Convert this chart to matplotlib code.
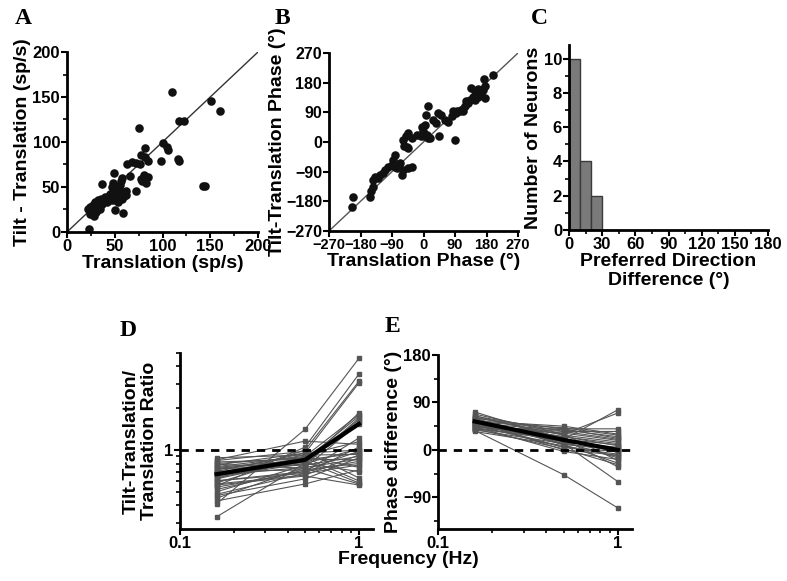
import numpy as np
import matplotlib
matplotlib.use('Agg')
import matplotlib.pyplot as plt
from matplotlib.ticker import FixedLocator, NullFormatter, MultipleLocator

plt.rcParams['font.family'] = ['Liberation Sans', 'DejaVu Sans']
plt.rcParams['font.weight'] = 'bold'
plt.rcParams['axes.labelweight'] = 'bold'

########################################################################################################
# A: response amplitude, translation vs tilt-translation (sp/s)
amp_trans = [110, 151, 160, 117, 122, 75, 101, 105, 106, 82, 98, 116.5, 117, 77, 82,
             63, 68, 72, 76, 84.5, 85, 81, 78, 79, 83, 66, 49, 57.6, 57, 72, 142, 145, 37,
             48, 52, 55, 50, 53, 58.6, 62, 57.6, 51.7, 46.6, 43, 39.7, 36, 32.8, 29.3, 27.6,
             24, 22.4, 25.9, 29.3, 31, 44.8, 41.4, 36.2, 48.3, 53.4, 56.9, 25.9, 24, 34.5,
             50, 58.6, 23.4, 27, 30, 33, 38, 45, 52, 60, 55, 47, 62, 28, 35]
amp_tilt = [156, 146, 134, 123, 123, 116, 99, 94, 91, 93, 79, 81, 79, 85, 83,
            75, 78, 77, 75, 79, 61, 63, 59, 57, 54, 62, 66, 60, 57, 45.5, 51, 51, 53,
            54, 50, 46, 44, 41, 42.6, 40.7, 37, 37, 40.7, 38, 39, 37, 35, 33, 29.6,
            27.8, 26, 22, 26, 29.6, 35, 33, 31.5, 35, 33, 44, 20.4, 20.4, 33,
            24, 21, 3.7, 25, 22, 28, 33, 42, 47, 40, 52, 50, 45, 18, 25]

# B: response phase (deg)
ph_trans = [199, 172, 175, 175, 137, 156, 146, 160, 113, 96, 83, 89, 61, 51, 42, 27.6, 35,
            44, 13, 6, 3.8, -5.7, -1, -7.6, 1.9, 8.6, 18, 13.3, -20, -34, -43.7, -50, -58,
            -56, -48.5, -43.7, -32, -43.7, -58, -62.7, -81.7, -86.5, -91, -81.7, -77, -72,
            -67.5, -100.8, -110, -115, -124.5, -129, -139, -143.5, -145.4, -150, -153,
            -200.6, -205, 160.6, 151, 141.6, 132, 127, 118, 108, 103.6, 94, 122.6, 146,
            156, 165, 170, 70, 80]
ph_tilt = [204, 191, 169, 133, 164, 161, 154, 143, 93, 93, 93, 6.6, 67, 82.6, 87.6, 67, 59,
           18.7, 108, 82.6, 52, 47, 32, 16.7, 16.7, 21.8, 11.7, 11.7, 21.8, 11.7, 26.9,
           16.7, 6.6, -11.6, -13.7, -18.7, -74.5, -79.5, -84.6, -99.8, -39, -54, -69.4,
           -74.5, -79.5, -74.5, -64.3, -74.5, -84.6, -94.7, -99.8, -110, -104.9, -115,
           -135, -150, -165.7, -165.7, -196, 158.6, 148, 138, 128, 118, 108, 97.7, 92.7,
           87.6, 123, 128, 138, 148, 158.6, 62, 77.5]

# C: preferred direction difference histogram
pd_bins = [0, 10, 20, 30]
pd_counts = [10, 4, 2]

# D and E: one row per neuron, columns are the three frequencies
freqs = [0.16, 0.5, 1.0]
ratio = [[0.41, 1.41, 4.57], [0.55, 1.05, 3.52], [0.62, 1.00, 3.12], [0.70, 0.95, 3.04],
         [0.33, 0.80, 1.85], [0.58, 0.90, 1.80], [0.75, 0.85, 1.75], [0.50, 0.78, 1.70],
         [0.65, 0.82, 1.65], [0.80, 0.88, 1.60], [0.45, 0.75, 1.55], [0.60, 0.70, 1.22],
         [0.72, 0.92, 1.15], [0.85, 1.16, 1.10], [0.48, 0.68, 1.05], [0.68, 0.80, 1.02],
         [0.78, 0.95, 1.00], [0.52, 0.72, 0.98], [0.62, 0.85, 0.95], [0.88, 0.92, 0.93],
         [0.57, 0.66, 0.92], [0.73, 0.78, 0.90], [0.47, 0.62, 0.88], [0.66, 0.75, 0.86],
         [0.82, 0.86, 0.85], [0.54, 0.70, 0.83], [0.70, 0.72, 0.80], [0.60, 0.68, 0.78],
         [0.76, 0.90, 0.75], [0.43, 0.57, 0.72], [0.64, 0.80, 0.70], [0.84, 0.98, 0.63],
         [0.69, 0.88, 0.60], [0.79, 0.74, 0.57], [0.56, 0.65, 0.56], [0.74, 0.83, 0.58]]
ratio_mean = [0.67, 0.85, 1.54]

phase_diff = [[72, 20, 76], [68, 30, 70], [60, 40, 40], [55, 45, 30], [50, 38, 25],
              [45, 35, 20], [62, 28, 15], [40, 20, 10], [52, 25, 8], [48, 15, 5],
              [58, 10, 2], [42, 18, 0], [38, 12, -2], [65, 22, -5], [47, 5, -8],
              [54, 0, -10], [35, 8, -12], [60, 15, -15], [44, -3, -18], [50, 30, -20],
              [56, 10, -25], [40, 2, -28], [46, 20, -32], [64, 35, 35], [53, 42, 28],
              [37, -47, -110], [58, 12, -60], [49, 25, 12], [43, 32, 18], [51, 5, -3],
              [39, 40, 22], [57, 18, 3]]
phase_mean = [54, 19, 0]

########################################################################################################
LABEL_SIZE = 14

def style_axes(ax):
	ax.spines['top'].set_visible(False)
	ax.spines['right'].set_visible(False)
	ax.spines['left'].set_linewidth(2)
	ax.spines['bottom'].set_linewidth(2)
	ax.tick_params(which='major', direction='out', length=4, width=1.5, labelsize=12, pad=1)
	ax.tick_params(which='minor', direction='out', length=3, width=1.2)

def panel_letter(x, y, s):
	fig.text(x / 787.0, 1 - y / 581.0, s, family='Liberation Serif', weight='bold',
			 fontsize=17, va='center', ha='left')

def frame(l, t, r, b):
	# pixel box -> figure fraction
	return [l / 787.0, 1 - b / 581.0, (r - l) / 787.0, (b - t) / 581.0]

fig = plt.figure(figsize=(7.87, 5.81), dpi=100)

# A
ax1 = fig.add_axes(frame(67, 52, 258, 232))
ax1.plot([0, 200], [0, 200], color='#333333', lw=1, zorder=1)
ax1.scatter(amp_trans, amp_tilt, s=38, color='#111111', zorder=2, linewidths=0)
ax1.set_xlim(0, 200)
ax1.set_ylim(0, 200)
ax1.set_xticks([0, 50, 100, 150, 200])
ax1.set_yticks([0, 50, 100, 150, 200])
ax1.xaxis.set_minor_locator(MultipleLocator(25))
ax1.yaxis.set_minor_locator(MultipleLocator(25))
style_axes(ax1)
ax1.set_xlabel('Translation (sp/s)', fontsize=LABEL_SIZE, labelpad=1)
ax1.set_ylabel('Tilt - Translation (sp/s)', fontsize=LABEL_SIZE, labelpad=1)
panel_letter(15, 19, 'A')

# B
ax2 = fig.add_axes(frame(329, 53, 518, 231))
ax2.plot([-270, 270], [-270, 270], color='#555555', lw=1, zorder=1)
ax2.scatter(ph_trans, ph_tilt, s=38, color='#111111', zorder=2, linewidths=0)
ax2.set_xlim(-270, 270)
ax2.set_ylim(-270, 270)
ax2.set_xticks([-270, -180, -90, 0, 90, 180, 270])
ax2.set_yticks([-270, -180, -90, 0, 90, 180, 270])
style_axes(ax2)
ax2.tick_params(axis='x', labelsize=10.5)
ax2.tick_params(axis='y', labelsize=11.5)
ax2.set_xlabel('Translation Phase (°)', fontsize=LABEL_SIZE, labelpad=1)
ax2.set_ylabel('Tilt-Translation Phase (°)', fontsize=LABEL_SIZE, labelpad=0)
panel_letter(275, 19, 'B')

# C
ax3 = fig.add_axes(frame(569, 45, 768, 230))
ax3.bar(pd_bins[:-1], pd_counts, width=10, align='edge', color='#7a7a7a',
		edgecolor='#3a3a3a', linewidth=1)
ax3.set_xlim(0, 180)
ax3.set_ylim(0, 10.8)
ax3.set_xticks([0, 30, 60, 90, 120, 150, 180])
ax3.set_yticks([0, 2, 4, 6, 8, 10])
ax3.xaxis.set_minor_locator(MultipleLocator(15))
ax3.yaxis.set_minor_locator(MultipleLocator(1))
style_axes(ax3)
ax3.set_xlabel('Preferred Direction\nDifference (°)', fontsize=LABEL_SIZE, labelpad=1,
			   linespacing=1.1)
ax3.set_ylabel('Number of Neurons', fontsize=LABEL_SIZE, labelpad=1)
panel_letter(531, 19, 'C')

# D
ax4 = fig.add_axes(frame(180, 353, 373, 529))
for row in ratio:
	ax4.plot(freqs, row, color='#555555', lw=0.8, marker='s', ms=2.5, zorder=2)
ax4.plot(freqs, ratio_mean, color='#000000', lw=3, zorder=3)
ax4.axhline(1, color='black', lw=2, ls=(0, (3, 2.5)), zorder=4)
ax4.set_xscale('log')
ax4.set_yscale('log')
ax4.set_xlim(0.1, 1.2)
ax4.set_ylim(0.27, 5)
ax4.xaxis.set_major_locator(FixedLocator([0.1, 1]))
ax4.xaxis.set_minor_locator(FixedLocator([0.2, 0.3, 0.4, 0.5, 0.6, 0.7, 0.8, 0.9]))
ax4.set_xticklabels(['0.1', '1'])
ax4.yaxis.set_major_locator(FixedLocator([1]))
ax4.yaxis.set_minor_locator(FixedLocator([0.3, 0.4, 0.5, 0.6, 0.7, 0.8, 0.9, 2, 3, 4, 5]))
ax4.set_yticklabels(['1'])
ax4.xaxis.set_minor_formatter(NullFormatter())
ax4.yaxis.set_minor_formatter(NullFormatter())
style_axes(ax4)
ax4.set_ylabel('Tilt-Translation/\nTranslation Ratio', fontsize=LABEL_SIZE, labelpad=4,
			   linespacing=1.1)
panel_letter(120, 330, 'D')

# E
ax5 = fig.add_axes(frame(438, 355, 632, 529))
for row in phase_diff:
	ax5.plot(freqs, row, color='#555555', lw=0.8, marker='s', ms=2.5, zorder=2)
ax5.plot(freqs, phase_mean, color='#000000', lw=3, zorder=3)
ax5.axhline(0, color='black', lw=2, ls=(0, (3, 2.5)), zorder=4)
ax5.set_xscale('log')
ax5.set_xlim(0.1, 1.2)
ax5.set_ylim(-150, 180)
ax5.xaxis.set_major_locator(FixedLocator([0.1, 1]))
ax5.xaxis.set_minor_locator(FixedLocator([0.2, 0.3, 0.4, 0.5, 0.6, 0.7, 0.8, 0.9]))
ax5.set_xticklabels(['0.1', '1'])
ax5.xaxis.set_minor_formatter(NullFormatter())
ax5.set_yticks([-90, 0, 90, 180])
ax5.yaxis.set_minor_locator(FixedLocator([-135, -45, 45, 135]))
style_axes(ax5)
ax5.set_ylabel('Phase difference (°)', fontsize=LABEL_SIZE, labelpad=1)
panel_letter(385, 327, 'E')

fig.text(408 / 787.0, 1 - 560 / 581.0, 'Frequency (Hz)', fontsize=LABEL_SIZE,
		 weight='bold', ha='center', va='center')

plt.savefig('out.png', dpi=100)
